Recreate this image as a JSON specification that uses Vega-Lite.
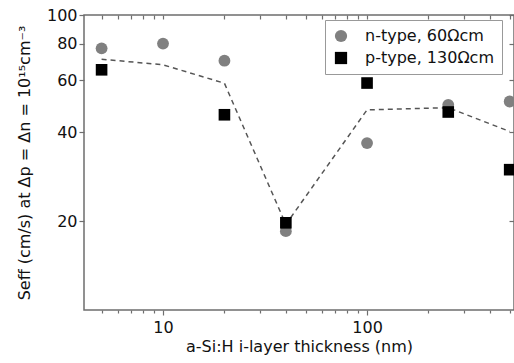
{
  "$schema": "https://vega.github.io/schema/vega-lite/v6.json",
  "width": 430,
  "height": 295,
  "autosize": {"type": "none"},
  "padding": {"left": 84, "top": 15, "right": 0, "bottom": 53},
  "background": "white",
  "config": {
    "view": {"stroke": "#6e6e6e", "strokeWidth": 1.5},
    "font": "DejaVu Sans",
    "axis": {"grid": false, "domain": false, "tickColor": "#6e6e6e", "tickWidth": 1.2, "labelColor": "#111", "titleColor": "#111", "labelFont": "DejaVu Sans", "titleFont": "DejaVu Sans", "titleFontWeight": "normal"}
  },
  "datasets": {
    "avg": [
      {"thickness": 5, "seff": 70.8},
      {"thickness": 10, "seff": 67.8},
      {"thickness": 20, "seff": 58.7},
      {"thickness": 40, "seff": 19.5},
      {"thickness": 100, "seff": 47.7},
      {"thickness": 250, "seff": 48.5},
      {"thickness": 500, "seff": 40.3}
    ],
    "pts": [
      {"thickness": 5, "seff": 77.1, "type": "n-type, 60Ωcm"},
      {"thickness": 10, "seff": 80.0, "type": "n-type, 60Ωcm"},
      {"thickness": 20, "seff": 70.0, "type": "n-type, 60Ωcm"},
      {"thickness": 40, "seff": 18.5, "type": "n-type, 60Ωcm"},
      {"thickness": 100, "seff": 36.8, "type": "n-type, 60Ωcm"},
      {"thickness": 250, "seff": 49.6, "type": "n-type, 60Ωcm"},
      {"thickness": 500, "seff": 50.9, "type": "n-type, 60Ωcm"},
      {"thickness": 5, "seff": 65.2, "type": "p-type, 130Ωcm"},
      {"thickness": 20, "seff": 45.9, "type": "p-type, 130Ωcm"},
      {"thickness": 40, "seff": 19.75, "type": "p-type, 130Ωcm"},
      {"thickness": 100, "seff": 58.8, "type": "p-type, 130Ωcm"},
      {"thickness": 250, "seff": 46.9, "type": "p-type, 130Ωcm"},
      {"thickness": 500, "seff": 29.9, "type": "p-type, 130Ωcm"}
    ]
  },
  "resolve": {"axis": {"x": "independent", "y": "independent"}},
  "layer": [
    {
      "data": {"name": "avg"},
      "mark": {"type": "line", "color": "#555555", "strokeWidth": 1.5, "strokeDash": [5, 4]},
      "encoding": {
        "x": {"field": "thickness", "type": "quantitative",
              "scale": {"type": "log", "domain": [4.1, 525], "nice": false},
              "axis": {"orient": "bottom", "values": [10, 100], "format": "d", "tickSize": 5, "labelPadding": 4, "labelFontSize": 16, "title": "a-Si:H i-layer thickness (nm)", "titleFontSize": 16, "titlePadding": 3}},
        "y": {"field": "seff", "type": "quantitative",
              "scale": {"type": "log", "domain": [10, 100], "nice": false},
              "axis": {"orient": "left", "values": [20, 40, 60, 80, 100], "format": "d", "tickSize": 5, "labelPadding": 2, "labelFontSize": 16, "title": "Seff (cm/s) at Δp = Δn = 10¹⁵cm⁻³", "titleFontSize": 16, "titlePadding": 14}}
      }
    },
    {
      "data": {"name": "pts"},
      "transform": [{"filter": "datum.type == 'n-type, 60Ωcm'"}],
      "mark": {"type": "point", "filled": true, "opacity": 1, "size": 140},
      "encoding": {
        "x": {"field": "thickness", "type": "quantitative",
              "axis": {"orient": "bottom", "values": [5, 6, 7, 8, 9, 20, 30, 40, 50, 60, 70, 80, 90, 200, 300, 400, 500], "labels": false, "tickSize": 3, "title": null}},
        "y": {"field": "seff", "type": "quantitative",
              "axis": {"orient": "right", "values": [20, 40, 60, 80, 100], "labels": false, "tickSize": -5, "title": null}},
        "color": {"field": "type", "type": "nominal",
                  "scale": {"domain": ["n-type, 60Ωcm", "p-type, 130Ωcm"], "range": ["#808080", "#000000"]},
                  "legend": {"title": null, "orient": "none", "legendX": 241, "legendY": 5, "strokeColor": "#999", "padding": 8, "symbolSize": 150, "labelFontSize": 16, "labelOffset": 16, "rowPadding": 6, "labelColor": "#111", "labelFont": "DejaVu Sans"}},
        "shape": {"field": "type", "type": "nominal",
                  "scale": {"domain": ["n-type, 60Ωcm", "p-type, 130Ωcm"], "range": ["circle", "square"]},
                  "legend": {"title": null}}
      }
    },
    {
      "data": {"name": "pts"},
      "transform": [{"filter": "datum.type == 'p-type, 130Ωcm'"}],
      "mark": {"type": "point", "filled": true, "opacity": 1, "size": 135},
      "encoding": {
        "x": {"field": "thickness", "type": "quantitative",
              "axis": {"orient": "top", "values": [5, 6, 7, 8, 9, 10, 20, 30, 40, 50, 60, 70, 80, 90, 100, 200, 300, 400, 500], "labels": false, "tickSize": -4, "title": null}},
        "y": {"field": "seff", "type": "quantitative", "axis": null},
        "color": {"field": "type", "type": "nominal"},
        "shape": {"field": "type", "type": "nominal"}
      }
    }
  ]
}
